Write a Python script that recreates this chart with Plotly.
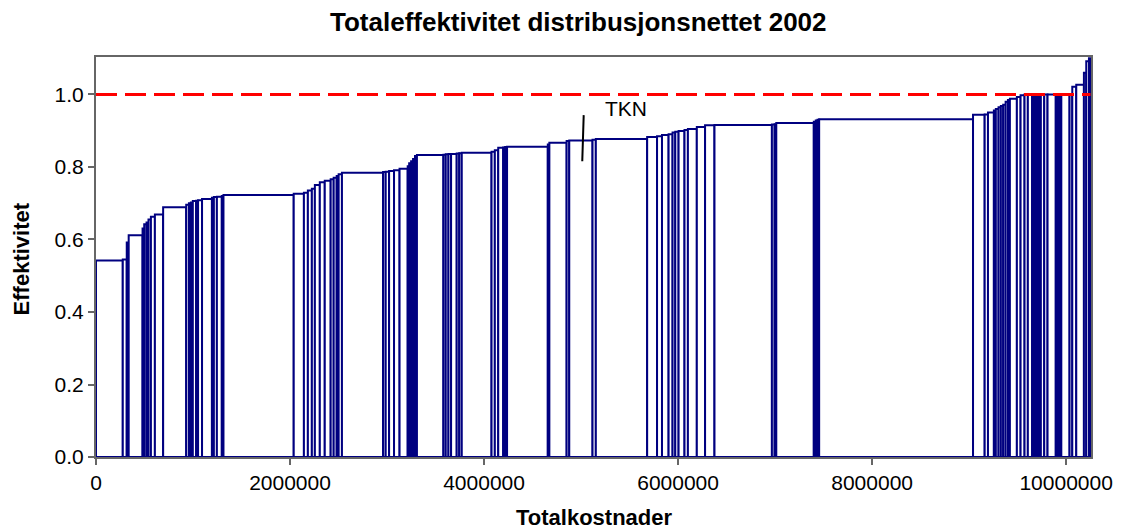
import numpy as np
import plotly.graph_objects as go

# Total cost per network company (thousand NOK), ordered by efficiency
kostnad_k = [
    276, 41, 20, 143, 17, 24, 20, 25, 41, 85,
    238, 28, 20, 20, 34, 20, 41, 102, 20, 31, 51, 17, 724,
    105, 41, 41, 31, 51, 51, 61, 31, 31, 20, 34, 424,
    27, 35, 51, 57, 84, 15, 20, 20, 20, 20, 273,
    24, 28, 27, 58, 26, 26, 307, 34, 35, 51, 20, 20, 420,
    16, 178, 27, 240, 34, 529,
    102, 51, 68, 41, 28, 34, 61, 35, 92, 85, 97, 592,
    28, 17, 387, 20, 18, 17, 1586,
    120, 34, 61, 20, 28, 24, 24, 25, 24, 20, 72, 38, 41, 34, 44,
    18, 18, 18, 18, 18,
    35, 34, 85,
    19, 19, 19,
    85, 28, 41, 79, 24, 28, 16,
]

# Total efficiency per company
effektivitet = [
    0.542, 0.545, 0.592, 0.612, 0.630, 0.642, 0.647, 0.655, 0.663, 0.669,
    0.689, 0.696, 0.700, 0.702, 0.706, 0.707, 0.708, 0.712, 0.715, 0.717, 0.718, 0.720, 0.723,
    0.726, 0.729, 0.735, 0.740, 0.750, 0.758, 0.762, 0.766, 0.770, 0.775, 0.780, 0.784,
    0.786, 0.787, 0.789, 0.791, 0.795, 0.802, 0.810, 0.816, 0.822, 0.830, 0.833,
    0.834, 0.835, 0.836, 0.836, 0.837, 0.838, 0.839, 0.842, 0.846, 0.853, 0.854, 0.855, 0.856,
    0.862, 0.867, 0.872, 0.873, 0.875, 0.877,
    0.883, 0.885, 0.888, 0.890, 0.895, 0.897, 0.899, 0.902, 0.905, 0.910, 0.915, 0.916,
    0.917, 0.918, 0.921, 0.925, 0.928, 0.930, 0.932,
    0.944, 0.945, 0.950, 0.956, 0.960, 0.965, 0.968, 0.972, 0.980, 0.985, 0.988, 0.993, 0.998, 1.000, 1.000,
    1.000, 1.000, 1.000, 1.000, 1.000,
    1.000, 1.000, 1.000,
    1.000, 1.000, 1.000,
    1.000, 1.000, 1.021, 1.027, 1.060, 1.092, 1.100,
]

x_ticks = [0, 2000000, 4000000, 6000000, 8000000, 10000000]
y_ticks = [0.0, 0.2, 0.4, 0.6, 0.8, 1.0]

# Marked company and its label position
tkn_label = "TKN"
tkn_pointer_x = [5027000, 5012000]
tkn_pointer_y = [0.943, 0.816]
tkn_label_xy = (5464000, 0.96)

bredde = np.array(kostnad_k, dtype=float) * 1000
start = np.concatenate([[0.0], np.cumsum(bredde)[:-1]])
total = float(bredde.sum())

FONT = "Liberation Sans, Arial, sans-serif"
NAVY = "#000080"
AXIS = "#666666"

fig = go.Figure()

fig.add_trace(go.Bar(
    x=start,
    y=effektivitet,
    width=bredde,
    offset=0,
    marker=dict(color="white", line=dict(color=NAVY, width=2)),
    hoverinfo="skip",
    showlegend=False,
))

# Full-efficiency reference line
fig.add_trace(go.Scatter(
    x=[0, total],
    y=[1.0, 1.0],
    mode="lines",
    line=dict(color="#FF0000", width=3, dash="21px,8px"),
    hoverinfo="skip",
    showlegend=False,
))

# Pointer for TKN
fig.add_trace(go.Scatter(
    x=tkn_pointer_x,
    y=tkn_pointer_y,
    mode="lines",
    line=dict(color="black", width=2),
    hoverinfo="skip",
    showlegend=False,
))

fig.add_annotation(
    x=tkn_label_xy[0], y=tkn_label_xy[1], xref="x", yref="y",
    text=tkn_label, showarrow=False,
    font=dict(family=FONT, size=21, color="black"),
)

fig.add_annotation(
    x=0.485, y=1.0875, xref="paper", yref="paper",
    text="<b>Totaleffektivitet distribusjonsnettet 2002</b>", showarrow=False,
    font=dict(family=FONT, size=26, color="black"),
    xanchor="center", yanchor="middle",
)
fig.add_annotation(
    x=0.501, y=-0.152, xref="paper", yref="paper",
    text="<b>Totalkostnader</b>", showarrow=False,
    font=dict(family=FONT, size=22, color="black"),
    xanchor="center", yanchor="middle",
)
fig.add_annotation(
    x=-0.075, y=0.495, xref="paper", yref="paper",
    text="<b>Effektivitet</b>", showarrow=False, textangle=-90,
    font=dict(family=FONT, size=22, color="black"),
    xanchor="center", yanchor="middle",
)

fig.update_xaxes(
    range=[0, 10256000],
    tickvals=x_ticks,
    ticktext=[str(v) for v in x_ticks],
    ticks="outside", ticklen=6, tickwidth=2, tickcolor=AXIS,
    showline=True, linecolor=AXIS, linewidth=2, mirror=True,
    showgrid=False, zeroline=False,
    tickfont=dict(family=FONT, size=21, color="black"),
)
fig.update_yaxes(
    range=[0, 1.1034],
    tickvals=y_ticks,
    ticktext=[f"{v:.1f}" for v in y_ticks],
    ticks="outside", ticklen=6, tickwidth=2, tickcolor=AXIS,
    showline=True, linecolor=AXIS, linewidth=2, mirror=True,
    showgrid=False, zeroline=False,
    tickfont=dict(family=FONT, size=21, color="black"),
)

fig.update_layout(
    width=1125, height=530,
    margin=dict(l=96, r=27, t=57, b=73),
    paper_bgcolor="white", plot_bgcolor="white",
    barmode="overlay",
    showlegend=False,
)

fig.write_html("out.html")
